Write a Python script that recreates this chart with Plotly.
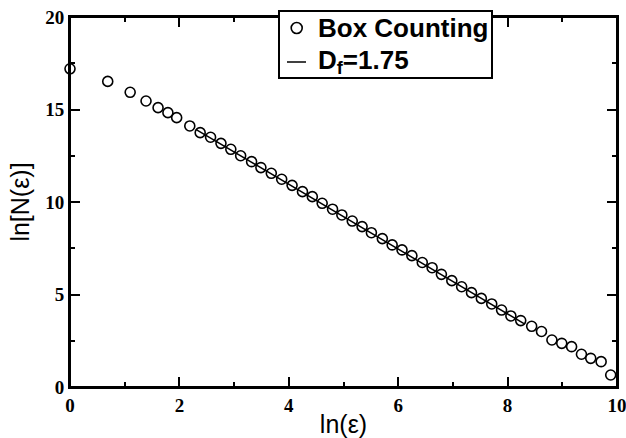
import plotly.graph_objects as go

# Box-counting data: ln(epsilon) vs ln[N(epsilon)]
ln_eps = [0.00, 0.69, 1.10, 1.39, 1.61, 1.79, 1.95,
          2.19, 2.38, 2.57, 2.76, 2.94, 3.12, 3.32, 3.49, 3.68, 3.87,
          4.06, 4.25, 4.43, 4.61, 4.80, 4.97, 5.16, 5.34, 5.51, 5.71,
          5.89, 6.07, 6.25, 6.44, 6.62, 6.79, 6.98, 7.16, 7.34, 7.52,
          7.71, 7.89, 8.06, 8.24, 8.44, 8.62, 8.81, 8.99, 9.17, 9.35,
          9.52, 9.71, 9.885]
ln_N = [17.20, 16.52, 15.93, 15.46, 15.10, 14.83, 14.56,
        14.11, 13.75, 13.50, 13.17, 12.85, 12.50, 12.18, 11.86, 11.55, 11.23,
        10.90, 10.56, 10.29, 9.93, 9.61, 9.30, 8.97, 8.67, 8.34, 8.02,
        7.68, 7.41, 7.10, 6.73, 6.45, 6.09, 5.75, 5.42, 5.10, 4.79,
        4.49, 4.16, 3.84, 3.59, 3.28, 3.00, 2.54, 2.36, 2.18, 1.77,
        1.55, 1.37, 0.65]

# Fitted line, slope -D_f = -1.75
fit_x = [2.30, 8.30]
fit_y = [13.93, 3.43]

x_ticks = [0, 2, 4, 6, 8, 10]
y_ticks = [0, 5, 10, 15, 20]

legend_labels = ["Box Counting", "D<sub>f</sub>=1.75"]

# layout geometry (pixels)
W, H = 626, 438
ML, MR, MT, MB = 70, 9, 17, 51
PW, PH = W - ML - MR, H - MT - MB


def px(xp):
    return (xp - ML) / PW


def py(yp):
    return (H - MB - yp) / PH


fig = go.Figure()
fig.add_trace(go.Scatter(
    x=ln_eps, y=ln_N, mode="markers", name=legend_labels[0],
    marker=dict(symbol="circle-open", size=10, color="black",
                line=dict(width=1.6, color="black")),
    showlegend=False, cliponaxis=False,
))
fig.add_trace(go.Scatter(
    x=fit_x, y=fit_y, mode="lines", name=legend_labels[1],
    line=dict(color="black", width=1.5),
    showlegend=False,
))

axis_common = dict(
    showgrid=False, zeroline=False, showline=True, linecolor="#000000",
    linewidth=2, mirror="allticks", ticks="inside", ticklen=10,
    tickwidth=2, tickcolor="#000000", automargin=False,
    ticklabeloverflow="allow",
    tickfont=dict(family="Liberation Serif", size=19, color="black",
                  weight="bold"),
)

frame = dict(color="#000000", width=2)
shapes = [
    # plot frame
    dict(type="line", xref="paper", yref="paper", x0=0, x1=1, y0=0, y1=0,
         line=frame, layer="above"),
    dict(type="line", xref="paper", yref="paper", x0=0, x1=1, y0=1, y1=1,
         line=frame, layer="above"),
    dict(type="line", xref="paper", yref="paper", x0=0, x1=0, y0=0, y1=1,
         line=frame, layer="above"),
    dict(type="line", xref="paper", yref="paper", x0=1, x1=1, y0=0, y1=1,
         line=frame, layer="above"),
    # legend box
    dict(type="rect", xref="paper", yref="paper",
         x0=px(279), x1=px(492), y0=py(78), y1=py(11),
         line=dict(color="black", width=2), fillcolor="white", layer="above"),
    # legend circle symbol
    dict(type="circle", xref="paper", yref="paper",
         x0=px(291.2), x1=px(302.2), y0=py(33.5), y1=py(22.5),
         line=dict(color="black", width=1.6), layer="above"),
    # legend line symbol
    dict(type="line", xref="paper", yref="paper",
         x0=px(287), x1=px(306), y0=py(62), y1=py(62),
         line=dict(color="black", width=1.5), layer="above"),
]

legend_font = dict(family="Liberation Sans", size=26, color="black",
                   weight="bold")
annotations = [
    dict(text=legend_labels[0], xref="paper", yref="paper",
         x=px(316), y=py(28), xanchor="left", yanchor="middle",
         showarrow=False, font=legend_font),
    dict(text=legend_labels[1], xref="paper", yref="paper",
         x=px(316), y=py(62), xanchor="left", yanchor="middle",
         showarrow=False, font=legend_font),
]

fig.update_layout(
    width=W, height=H,
    margin=dict(l=ML, r=MR, t=MT, b=MB, autoexpand=False),
    paper_bgcolor="white", plot_bgcolor="white",
    showlegend=False,
    shapes=shapes,
    annotations=annotations,
    xaxis=dict(
        range=[0, 10], tickvals=x_ticks, ticktext=[str(v) for v in x_ticks],
        minor=dict(ticks="inside", ticklen=5, tickwidth=2, dtick=1,
                   tickcolor="#000000", showgrid=False),
        title=dict(text="ln(ε)", standoff=9,
                   font=dict(family="Liberation Sans", size=25, color="black")),
        **axis_common,
    ),
    yaxis=dict(
        range=[0, 20], tickvals=y_ticks, ticktext=[str(v) for v in y_ticks],
        minor=dict(ticks="inside", ticklen=5, tickwidth=2, dtick=2.5,
                   tickcolor="#000000", showgrid=False),
        title=dict(text="ln[N(ε)]", standoff=8,
                   font=dict(family="Liberation Sans", size=25, color="black")),
        **axis_common,
    ),
)

fig.write_html("out.html")
